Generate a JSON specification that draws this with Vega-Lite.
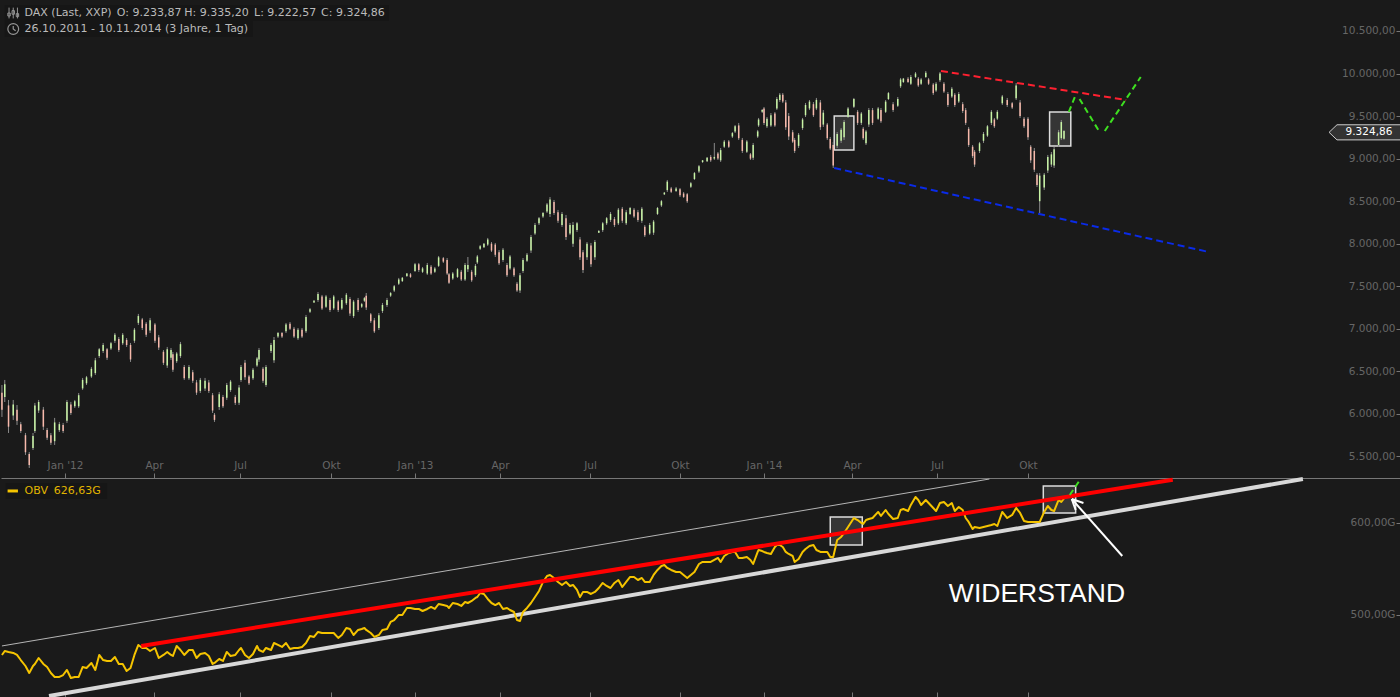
{"$schema":"https://vega.github.io/schema/vega-lite/v6.json","background":"#1a1a1a","padding":0,"spacing":0,"bounds":"flush","config":{"view":{"stroke":null},"concat":{"spacing":0},"text":{"font":"DejaVu Sans"},"axis":{"labelFont":"DejaVu Sans","labelFontSize":10.5,"labelColor":"#666666","tickColor":"#777777","grid":false,"title":null}},
"datasets":{"rows":[
{"d":"2011-10-27","o":6250,"h":6340,"l":5964,"c":6050,"v":456.5},{"d":"2011-10-30","o":6200,"h":6399,"l":6140,"c":6350,"v":460.8},{"d":"2011-11-03","o":6100,"h":6164,"l":5776,"c":5850,"v":459.8},{"d":"2011-11-08","o":5980,"h":6164,"l":5929,"c":6110,"v":458.7},{"d":"2011-11-12","o":6050,"h":6105,"l":5870,"c":5920,"v":456.5},{"d":"2011-11-16","o":5880,"h":5906,"l":5776,"c":5800,"v":451},{"d":"2011-11-21","o":5750,"h":5776,"l":5518,"c":5550,"v":444.5},{"d":"2011-11-25","o":5530,"h":5553,"l":5365,"c":5400,"v":436.9},{"d":"2011-11-29","o":5600,"h":5776,"l":5576,"c":5740,"v":444.5},{"d":"2011-12-01","o":5800,"h":6129,"l":5776,"c":6100,"v":446.7},{"d":"2011-12-05","o":6040,"h":6164,"l":6011,"c":6140,"v":453.2},{"d":"2011-12-10","o":6050,"h":6082,"l":5811,"c":5850,"v":446.7},{"d":"2011-12-14","o":5810,"h":5835,"l":5694,"c":5720,"v":443.4},{"d":"2011-12-18","o":5750,"h":5776,"l":5635,"c":5660,"v":436.9},{"d":"2011-12-22","o":5680,"h":5953,"l":5635,"c":5900,"v":432.6},{"d":"2011-12-27","o":5810,"h":5906,"l":5788,"c":5880,"v":432.6},{"d":"2011-12-31","o":5870,"h":5894,"l":5776,"c":5800,"v":434.7},
{"d":"2012-01-04","o":5920,"h":6164,"l":5894,"c":6140,"v":440.2},{"d":"2012-01-08","o":6110,"h":6141,"l":5988,"c":6010,"v":431.5},{"d":"2012-01-12","o":6090,"h":6164,"l":6070,"c":6150,"v":432.6},{"d":"2012-01-16","o":6090,"h":6246,"l":6070,"c":6220,"v":432.6},{"d":"2012-01-20","o":6300,"h":6423,"l":6282,"c":6400,"v":443.4},{"d":"2012-01-24","o":6360,"h":6446,"l":6340,"c":6430,"v":442.3},{"d":"2012-01-29","o":6440,"h":6552,"l":6423,"c":6530,"v":447.8},{"d":"2012-02-02","o":6480,"h":6658,"l":6458,"c":6630,"v":440.2},{"d":"2012-02-06","o":6680,"h":6775,"l":6658,"c":6760,"v":456.5},{"d":"2012-02-10","o":6740,"h":6834,"l":6716,"c":6810,"v":451},{"d":"2012-02-14","o":6760,"h":6775,"l":6634,"c":6660,"v":450},{"d":"2012-02-18","o":6770,"h":6846,"l":6751,"c":6830,"v":450},{"d":"2012-02-22","o":6860,"h":6951,"l":6834,"c":6930,"v":454.3},{"d":"2012-02-26","o":6880,"h":6904,"l":6728,"c":6750,"v":446.7},{"d":"2012-03-01","o":6830,"h":6951,"l":6810,"c":6930,"v":446.7},{"d":"2012-03-05","o":6870,"h":6892,"l":6787,"c":6810,"v":439.1},{"d":"2012-03-09","o":6810,"h":6834,"l":6611,"c":6640,"v":442.3},{"d":"2012-03-13","o":6860,"h":7010,"l":6834,"c":6990,"v":456.5},{"d":"2012-03-17","o":7070,"h":7175,"l":7045,"c":7150,"v":467.4},{"d":"2012-03-21","o":7110,"h":7128,"l":6986,"c":7010,"v":464.1},{"d":"2012-03-25","o":7060,"h":7080,"l":6904,"c":6930,"v":464.1},{"d":"2012-03-29","o":6980,"h":7128,"l":6951,"c":7100,"v":460.8},{"d":"2012-04-03","o":7050,"h":7069,"l":6834,"c":6860,"v":464.1},{"d":"2012-04-07","o":6900,"h":6928,"l":6751,"c":6780,"v":453.2},{"d":"2012-04-12","o":6730,"h":6751,"l":6575,"c":6600,"v":456.5},{"d":"2012-04-16","o":6570,"h":6787,"l":6540,"c":6760,"v":459.8},{"d":"2012-04-20","o":6660,"h":6775,"l":6634,"c":6750,"v":456.5},{"d":"2012-04-22","o":6700,"h":6728,"l":6493,"c":6520,"v":455.4},{"d":"2012-04-26","o":6620,"h":6728,"l":6599,"c":6710,"v":466.3},{"d":"2012-04-30","o":6680,"h":6846,"l":6658,"c":6820,"v":461.9},{"d":"2012-05-04","o":6550,"h":6575,"l":6399,"c":6420,"v":456.5},{"d":"2012-05-09","o":6420,"h":6575,"l":6399,"c":6550,"v":461.9},{"d":"2012-05-13","o":6490,"h":6517,"l":6364,"c":6390,"v":461.9},{"d":"2012-05-17","o":6370,"h":6399,"l":6223,"c":6250,"v":453.2},{"d":"2012-05-21","o":6270,"h":6423,"l":6246,"c":6400,"v":457.6},{"d":"2012-05-26","o":6300,"h":6423,"l":6270,"c":6390,"v":458.7},{"d":"2012-05-30","o":6370,"h":6399,"l":6246,"c":6270,"v":455.4},{"d":"2012-06-03","o":6220,"h":6246,"l":6011,"c":6040,"v":446.7},{"d":"2012-06-05","o":5990,"h":6011,"l":5906,"c":5930,"v":447.8},{"d":"2012-06-10","o":6080,"h":6258,"l":6047,"c":6230,"v":452.1},{"d":"2012-06-14","o":6200,"h":6223,"l":6070,"c":6090,"v":450},{"d":"2012-06-18","o":6190,"h":6364,"l":6164,"c":6340,"v":459.8},{"d":"2012-06-22","o":6280,"h":6399,"l":6258,"c":6380,"v":455.4},{"d":"2012-06-27","o":6200,"h":6223,"l":6105,"c":6130,"v":456.5},{"d":"2012-07-01","o":6130,"h":6340,"l":6105,"c":6310,"v":461.9},{"d":"2012-07-03","o":6400,"h":6575,"l":6376,"c":6550,"v":464.1},{"d":"2012-07-07","o":6600,"h":6634,"l":6399,"c":6430,"v":456.5},{"d":"2012-07-11","o":6440,"h":6458,"l":6340,"c":6360,"v":453.2},{"d":"2012-07-15","o":6420,"h":6540,"l":6399,"c":6520,"v":457.6},{"d":"2012-07-19","o":6570,"h":6669,"l":6552,"c":6650,"v":466.3},{"d":"2012-07-21","o":6640,"h":6775,"l":6611,"c":6750,"v":461.9},{"d":"2012-07-25","o":6530,"h":6552,"l":6364,"c":6390,"v":459.8},{"d":"2012-07-28","o":6340,"h":6575,"l":6317,"c":6550,"v":464.1},{"d":"2012-08-02","o":6740,"h":6834,"l":6716,"c":6810,"v":461.9},{"d":"2012-08-05","o":6630,"h":6904,"l":6599,"c":6870,"v":469.5},{"d":"2012-08-09","o":6910,"h":6963,"l":6892,"c":6950,"v":467.4},{"d":"2012-08-13","o":6950,"h":6963,"l":6892,"c":6910,"v":465.2},{"d":"2012-08-17","o":6970,"h":7069,"l":6951,"c":7050,"v":469.5},{"d":"2012-08-21","o":7060,"h":7080,"l":6986,"c":7000,"v":463},{"d":"2012-08-25","o":7000,"h":7022,"l":6892,"c":6910,"v":464.1},{"d":"2012-08-29","o":6890,"h":7010,"l":6869,"c":6990,"v":464.1},{"d":"2012-09-02","o":6990,"h":7010,"l":6892,"c":6910,"v":465.2},{"d":"2012-09-06","o":6970,"h":7163,"l":6951,"c":7140,"v":469.5},{"d":"2012-09-10","o":7200,"h":7245,"l":7186,"c":7230,"v":477.2},{"d":"2012-09-14","o":7310,"h":7339,"l":7304,"c":7330,"v":476.1},{"d":"2012-09-18","o":7340,"h":7433,"l":7316,"c":7410,"v":481.5},{"d":"2012-09-22","o":7380,"h":7398,"l":7221,"c":7240,"v":480.4},{"d":"2012-09-26","o":7260,"h":7398,"l":7245,"c":7380,"v":480.4},{"d":"2012-09-30","o":7340,"h":7363,"l":7198,"c":7220,"v":480.4},{"d":"2012-10-04","o":7240,"h":7398,"l":7221,"c":7380,"v":480.4},{"d":"2012-10-09","o":7320,"h":7339,"l":7198,"c":7220,"v":475},{"d":"2012-10-13","o":7240,"h":7363,"l":7221,"c":7340,"v":478.2},{"d":"2012-10-18","o":7300,"h":7421,"l":7280,"c":7400,"v":485.8},{"d":"2012-10-22","o":7350,"h":7374,"l":7151,"c":7180,"v":484.8},{"d":"2012-10-26","o":7150,"h":7339,"l":7128,"c":7320,"v":478.2},{"d":"2012-10-31","o":7340,"h":7363,"l":7198,"c":7220,"v":483.7},{"d":"2012-11-04","o":7260,"h":7304,"l":7245,"c":7290,"v":484.8},{"d":"2012-11-07","o":7330,"h":7374,"l":7316,"c":7360,"v":485.8},{"d":"2012-11-09","o":7390,"h":7421,"l":7221,"c":7250,"v":483.7},{"d":"2012-11-14","o":7170,"h":7186,"l":7069,"c":7090,"v":480.4},{"d":"2012-11-18","o":7100,"h":7128,"l":6951,"c":6970,"v":476.1},{"d":"2012-11-23","o":7010,"h":7186,"l":6986,"c":7160,"v":478.2},{"d":"2012-11-27","o":7210,"h":7304,"l":7186,"c":7280,"v":483.7},{"d":"2012-12-02","o":7280,"h":7363,"l":7257,"c":7340,"v":484.8},{"d":"2012-12-06","o":7390,"h":7433,"l":7374,"c":7420,"v":492.4},{"d":"2012-12-10","o":7450,"h":7515,"l":7433,"c":7500,"v":494.5},{"d":"2012-12-15","o":7530,"h":7598,"l":7515,"c":7580,"v":500},{"d":"2012-12-19","o":7560,"h":7609,"l":7551,"c":7600,"v":500},{"d":"2012-12-24","o":7620,"h":7656,"l":7609,"c":7650,"v":507.6},{"d":"2012-12-28","o":7640,"h":7656,"l":7598,"c":7610,"v":507.6},
{"d":"2013-01-02","o":7680,"h":7774,"l":7668,"c":7760,"v":506.5},{"d":"2013-01-06","o":7760,"h":7774,"l":7668,"c":7690,"v":506.5},{"d":"2013-01-10","o":7670,"h":7727,"l":7656,"c":7710,"v":504.3},{"d":"2013-01-15","o":7650,"h":7774,"l":7633,"c":7750,"v":506.5},{"d":"2013-01-19","o":7730,"h":7750,"l":7633,"c":7650,"v":508.7},{"d":"2013-01-23","o":7670,"h":7727,"l":7656,"c":7710,"v":506.5},{"d":"2013-01-27","o":7740,"h":7856,"l":7727,"c":7840,"v":511.9},{"d":"2013-02-01","o":7830,"h":7844,"l":7774,"c":7790,"v":510.8},{"d":"2013-02-05","o":7810,"h":7832,"l":7633,"c":7650,"v":509.8},{"d":"2013-02-07","o":7640,"h":7656,"l":7527,"c":7540,"v":507.6},{"d":"2013-02-11","o":7590,"h":7668,"l":7574,"c":7650,"v":513},{"d":"2013-02-16","o":7610,"h":7715,"l":7598,"c":7700,"v":511.9},{"d":"2013-02-20","o":7670,"h":7692,"l":7562,"c":7580,"v":509.8},{"d":"2013-02-24","o":7580,"h":7774,"l":7562,"c":7750,"v":514.1},{"d":"2013-02-27","o":7700,"h":7844,"l":7668,"c":7750,"v":513},{"d":"2013-03-03","o":7670,"h":7692,"l":7551,"c":7570,"v":515.2},{"d":"2013-03-07","o":7630,"h":7762,"l":7609,"c":7740,"v":518.5},{"d":"2013-03-09","o":7780,"h":7868,"l":7762,"c":7850,"v":519.5},{"d":"2013-03-12","o":7940,"h":7985,"l":7926,"c":7970,"v":523.9},{"d":"2013-03-16","o":7960,"h":8009,"l":7950,"c":8000,"v":522.8},{"d":"2013-03-20","o":7990,"h":8068,"l":7974,"c":8050,"v":517.4},{"d":"2013-03-24","o":8000,"h":8020,"l":7903,"c":7920,"v":513},{"d":"2013-03-28","o":7990,"h":8009,"l":7844,"c":7870,"v":510.8},{"d":"2013-04-01","o":7900,"h":7926,"l":7750,"c":7770,"v":513},{"d":"2013-04-05","o":7810,"h":7950,"l":7786,"c":7930,"v":506.5},{"d":"2013-04-09","o":7750,"h":7774,"l":7609,"c":7630,"v":507.6},{"d":"2013-04-12","o":7710,"h":7868,"l":7692,"c":7850,"v":505.4},{"d":"2013-04-16","o":7710,"h":7727,"l":7609,"c":7630,"v":503.2},{"d":"2013-04-19","o":7530,"h":7551,"l":7433,"c":7450,"v":494.5},{"d":"2013-04-22","o":7450,"h":7656,"l":7421,"c":7630,"v":493.5},{"d":"2013-04-25","o":7680,"h":7832,"l":7656,"c":7810,"v":503.2},{"d":"2013-04-29","o":7800,"h":7891,"l":7786,"c":7870,"v":507.6},{"d":"2013-05-03","o":7920,"h":8103,"l":7891,"c":8080,"v":513},{"d":"2013-05-07","o":8120,"h":8244,"l":8103,"c":8220,"v":519.5},{"d":"2013-05-11","o":8240,"h":8314,"l":8220,"c":8300,"v":526.1},{"d":"2013-05-15","o":8320,"h":8373,"l":8303,"c":8360,"v":535.9},{"d":"2013-05-19","o":8380,"h":8479,"l":8361,"c":8460,"v":542.4},{"d":"2013-05-22","o":8350,"h":8549,"l":8314,"c":8520,"v":543.5},{"d":"2013-05-26","o":8490,"h":8514,"l":8338,"c":8360,"v":540.2},{"d":"2013-05-30","o":8370,"h":8397,"l":8244,"c":8270,"v":535.9},{"d":"2013-06-03","o":8220,"h":8373,"l":8197,"c":8350,"v":532.6},{"d":"2013-06-07","o":8300,"h":8338,"l":8044,"c":8080,"v":535.9},{"d":"2013-06-11","o":8120,"h":8244,"l":8103,"c":8220,"v":531.5},{"d":"2013-06-14","o":8000,"h":8256,"l":7962,"c":8220,"v":532.6},{"d":"2013-06-18","o":8160,"h":8256,"l":8138,"c":8240,"v":527.2},{"d":"2013-06-21","o":8050,"h":8079,"l":7809,"c":7840,"v":519.5},{"d":"2013-06-24","o":7900,"h":7926,"l":7656,"c":7690,"v":525},{"d":"2013-06-28","o":7840,"h":8020,"l":7809,"c":8000,"v":525},{"d":"2013-07-02","o":7980,"h":8009,"l":7727,"c":7760,"v":522.8},{"d":"2013-07-06","o":7840,"h":8044,"l":7809,"c":8020,"v":525},{"d":"2013-07-10","o":8130,"h":8161,"l":8126,"c":8150,"v":529.3},{"d":"2013-07-14","o":8160,"h":8256,"l":8138,"c":8240,"v":534.8},{"d":"2013-07-18","o":8240,"h":8314,"l":8220,"c":8300,"v":531.5},{"d":"2013-07-22","o":8280,"h":8373,"l":8256,"c":8350,"v":529.3},{"d":"2013-07-26","o":8290,"h":8314,"l":8197,"c":8220,"v":534.8},{"d":"2013-07-30","o":8240,"h":8420,"l":8220,"c":8400,"v":538},{"d":"2013-08-03","o":8410,"h":8432,"l":8244,"c":8270,"v":530.4},{"d":"2013-08-07","o":8240,"h":8397,"l":8220,"c":8370,"v":535.9},{"d":"2013-08-11","o":8350,"h":8432,"l":8338,"c":8420,"v":541.3},{"d":"2013-08-15","o":8400,"h":8420,"l":8303,"c":8320,"v":541.3},{"d":"2013-08-19","o":8370,"h":8397,"l":8256,"c":8280,"v":538},{"d":"2013-08-23","o":8270,"h":8432,"l":8244,"c":8410,"v":540.2},{"d":"2013-08-26","o":8200,"h":8220,"l":8079,"c":8100,"v":535.9},{"d":"2013-08-31","o":8120,"h":8244,"l":8103,"c":8220,"v":535.9},{"d":"2013-09-04","o":8130,"h":8279,"l":8103,"c":8260,"v":543.5},{"d":"2013-09-08","o":8350,"h":8432,"l":8338,"c":8420,"v":548.9},{"d":"2013-09-12","o":8450,"h":8514,"l":8432,"c":8500,"v":553.2},{"d":"2013-09-15","o":8580,"h":8608,"l":8573,"c":8600,"v":554.3},{"d":"2013-09-18","o":8630,"h":8749,"l":8608,"c":8730,"v":551.1},{"d":"2013-09-22","o":8650,"h":8667,"l":8596,"c":8610,"v":548.9},{"d":"2013-09-27","o":8620,"h":8667,"l":8608,"c":8650,"v":546.7},{"d":"2013-10-01","o":8640,"h":8655,"l":8549,"c":8570,"v":546.7},{"d":"2013-10-05","o":8590,"h":8608,"l":8538,"c":8550,"v":543.5},{"d":"2013-10-09","o":8580,"h":8596,"l":8479,"c":8500,"v":540.2},{"d":"2013-10-13","o":8670,"h":8726,"l":8655,"c":8710,"v":543.5},{"d":"2013-10-17","o":8760,"h":8843,"l":8749,"c":8830,"v":546.7},{"d":"2013-10-22","o":8850,"h":8925,"l":8831,"c":8910,"v":555.4},{"d":"2013-10-26","o":8960,"h":8984,"l":8949,"c":8980,"v":557.6},{"d":"2013-10-31","o":8970,"h":9019,"l":8961,"c":9010,"v":557.6},{"d":"2013-11-04","o":9020,"h":9043,"l":8961,"c":8980,"v":557.6},{"d":"2013-11-08","o":9000,"h":9184,"l":8984,"c":9020,"v":559.8},{"d":"2013-11-12","o":9060,"h":9078,"l":8984,"c":9000,"v":562},{"d":"2013-11-15","o":8980,"h":9125,"l":8961,"c":9100,"v":557.6},{"d":"2013-11-19","o":9140,"h":9219,"l":9125,"c":9200,"v":564.1},{"d":"2013-11-24","o":9200,"h":9219,"l":9125,"c":9140,"v":567.4},{"d":"2013-11-28","o":9260,"h":9313,"l":9243,"c":9300,"v":568.5},{"d":"2013-12-01","o":9320,"h":9395,"l":9301,"c":9380,"v":568.5},{"d":"2013-12-05","o":9390,"h":9419,"l":9219,"c":9240,"v":562},{"d":"2013-12-09","o":9220,"h":9243,"l":9066,"c":9090,"v":562},{"d":"2013-12-14","o":9080,"h":9219,"l":9066,"c":9200,"v":563},{"d":"2013-12-18","o":9050,"h":9066,"l":8984,"c":9000,"v":559.8},{"d":"2013-12-21","o":9010,"h":9184,"l":8984,"c":9160,"v":555.4},{"d":"2013-12-26","o":9260,"h":9337,"l":9243,"c":9320,"v":568.5},{"d":"2013-12-27","o":9390,"h":9478,"l":9372,"c":9460,"v":570.6},{"d":"2013-12-31","o":9550,"h":9583,"l":9536,"c":9570,"v":569.5},
{"d":"2014-01-02","o":9590,"h":9607,"l":9395,"c":9420,"v":568.5},{"d":"2014-01-05","o":9380,"h":9489,"l":9360,"c":9470,"v":567.4},{"d":"2014-01-09","o":9390,"h":9536,"l":9372,"c":9510,"v":566.3},{"d":"2014-01-13","o":9530,"h":9548,"l":9372,"c":9390,"v":573.9},{"d":"2014-01-15","o":9590,"h":9724,"l":9572,"c":9700,"v":576.1},{"d":"2014-01-18","o":9690,"h":9771,"l":9666,"c":9750,"v":576.1},{"d":"2014-01-21","o":9750,"h":9771,"l":9654,"c":9670,"v":573.9},{"d":"2014-01-24","o":9660,"h":9689,"l":9337,"c":9370,"v":568.5},{"d":"2014-01-27","o":9500,"h":9536,"l":9219,"c":9260,"v":566.3},{"d":"2014-01-31","o":9310,"h":9337,"l":9184,"c":9200,"v":564.1},{"d":"2014-02-02","o":9220,"h":9243,"l":9066,"c":9090,"v":557.6},{"d":"2014-02-06","o":9150,"h":9301,"l":9125,"c":9280,"v":560.9},{"d":"2014-02-10","o":9360,"h":9478,"l":9337,"c":9460,"v":568.5},{"d":"2014-02-13","o":9510,"h":9654,"l":9489,"c":9630,"v":571.7},{"d":"2014-02-17","o":9590,"h":9689,"l":9571,"c":9670,"v":575},{"d":"2014-02-21","o":9640,"h":9665,"l":9489,"c":9510,"v":576.1},{"d":"2014-02-24","o":9590,"h":9713,"l":9571,"c":9690,"v":570.6},{"d":"2014-02-28","o":9660,"h":9689,"l":9337,"c":9370,"v":568.5},{"d":"2014-03-03","o":9400,"h":9571,"l":9372,"c":9540,"v":568.5},{"d":"2014-03-07","o":9400,"h":9419,"l":9219,"c":9240,"v":568.5},{"d":"2014-03-10","o":9230,"h":9254,"l":9101,"c":9120,"v":563},{"d":"2014-03-13","o":9160,"h":9196,"l":8890,"c":8920,"v":563},{"d":"2014-03-17","o":9150,"h":9313,"l":9125,"c":9290,"v":581.5},{"d":"2014-03-21","o":9210,"h":9360,"l":9184,"c":9340,"v":584.8},{"d":"2014-03-24","o":9250,"h":9454,"l":9219,"c":9430,"v":589.1},{"d":"2014-03-28","o":9490,"h":9607,"l":9478,"c":9590,"v":595.6},{"d":"2014-04-03","o":9610,"h":9713,"l":9595,"c":9700,"v":605.4},{"d":"2014-04-07","o":9550,"h":9571,"l":9395,"c":9420,"v":603.2},{"d":"2014-04-11","o":9420,"h":9548,"l":9395,"c":9530,"v":600},{"d":"2014-04-13","o":9350,"h":9372,"l":9219,"c":9240,"v":598.9},{"d":"2014-04-16","o":9180,"h":9337,"l":9160,"c":9320,"v":603.2},{"d":"2014-04-19","o":9400,"h":9595,"l":9372,"c":9570,"v":604.3},{"d":"2014-04-23","o":9570,"h":9595,"l":9395,"c":9420,"v":605.4},{"d":"2014-04-29","o":9470,"h":9607,"l":9454,"c":9590,"v":612},{"d":"2014-05-02","o":9570,"h":9595,"l":9419,"c":9440,"v":607.6},{"d":"2014-05-07","o":9550,"h":9689,"l":9536,"c":9670,"v":614.1},{"d":"2014-05-10","o":9700,"h":9783,"l":9689,"c":9770,"v":609.8},{"d":"2014-05-15","o":9640,"h":9665,"l":9548,"c":9570,"v":604.3},{"d":"2014-05-20","o":9620,"h":9724,"l":9607,"c":9700,"v":605.4},{"d":"2014-05-23","o":9850,"h":9948,"l":9830,"c":9930,"v":614.1},{"d":"2014-05-26","o":9900,"h":9948,"l":9889,"c":9940,"v":615.2},{"d":"2014-05-31","o":9940,"h":9959,"l":9889,"c":9900,"v":613},{"d":"2014-06-03","o":9880,"h":9983,"l":9865,"c":9960,"v":619.6},{"d":"2014-06-08","o":9960,"h":10018,"l":9948,"c":10000,"v":628.3},{"d":"2014-06-11","o":9940,"h":9959,"l":9842,"c":9860,"v":625},{"d":"2014-06-14","o":9880,"h":9948,"l":9865,"c":9930,"v":619.6},{"d":"2014-06-19","o":9960,"h":10030,"l":9948,"c":10010,"v":625},{"d":"2014-06-22","o":9930,"h":9948,"l":9865,"c":9880,"v":621.7},{"d":"2014-06-27","o":9870,"h":9889,"l":9748,"c":9770,"v":616.3},{"d":"2014-06-30","o":9800,"h":9900,"l":9783,"c":9880,"v":613},{"d":"2014-07-04","o":9920,"h":10018,"l":9900,"c":10000,"v":621.7},{"d":"2014-07-08","o":9880,"h":9900,"l":9771,"c":9790,"v":622.8},{"d":"2014-07-12","o":9760,"h":9783,"l":9607,"c":9630,"v":618.5},{"d":"2014-07-16","o":9730,"h":9842,"l":9713,"c":9820,"v":621.7},{"d":"2014-07-19","o":9750,"h":9771,"l":9607,"c":9630,"v":613},{"d":"2014-07-23","o":9670,"h":9783,"l":9654,"c":9760,"v":617.4},{"d":"2014-07-27","o":9640,"h":9665,"l":9536,"c":9560,"v":614.1},{"d":"2014-07-30","o":9570,"h":9595,"l":9395,"c":9420,"v":605.4},{"d":"2014-08-02","o":9350,"h":9372,"l":9137,"c":9160,"v":601.1},{"d":"2014-08-06","o":9140,"h":9160,"l":9008,"c":9030,"v":593.5},{"d":"2014-08-08","o":9080,"h":9101,"l":8902,"c":8930,"v":595.6},{"d":"2014-08-13","o":9090,"h":9196,"l":9066,"c":9180,"v":594.5},{"d":"2014-08-17","o":9210,"h":9313,"l":9184,"c":9290,"v":595.6},{"d":"2014-08-21","o":9270,"h":9395,"l":9254,"c":9380,"v":596.7},{"d":"2014-08-25","o":9420,"h":9571,"l":9395,"c":9550,"v":597.8},{"d":"2014-08-28","o":9460,"h":9478,"l":9360,"c":9380,"v":598.9},{"d":"2014-08-31","o":9470,"h":9571,"l":9454,"c":9550,"v":596.7},{"d":"2014-09-05","o":9650,"h":9748,"l":9630,"c":9730,"v":612},{"d":"2014-09-10","o":9690,"h":9713,"l":9607,"c":9630,"v":605.4},{"d":"2014-09-15","o":9650,"h":9665,"l":9583,"c":9600,"v":608.7},{"d":"2014-09-19","o":9710,"h":9889,"l":9689,"c":9860,"v":616.3},{"d":"2014-09-23","o":9660,"h":9689,"l":9478,"c":9500,"v":610.9},{"d":"2014-09-27","o":9470,"h":9489,"l":9360,"c":9380,"v":602.2},{"d":"2014-10-01","o":9470,"h":9489,"l":9219,"c":9250,"v":601.1},{"d":"2014-10-04","o":9140,"h":9160,"l":8949,"c":8980,"v":601.1},{"d":"2014-10-08","o":9090,"h":9125,"l":8843,"c":8870,"v":601.1},{"d":"2014-10-11","o":8810,"h":8831,"l":8667,"c":8690,"v":601.1},{"d":"2014-10-14","o":8500,"h":8831,"l":8361,"c":8800,"v":601.1},{"d":"2014-10-19","o":8660,"h":8831,"l":8632,"c":8810,"v":612},{"d":"2014-10-23","o":8860,"h":9043,"l":8831,"c":9020,"v":618.5},{"d":"2014-10-27","o":8930,"h":9078,"l":8902,"c":9050,"v":614.1},{"d":"2014-10-30","o":8920,"h":9137,"l":8890,"c":9110,"v":613},{"d":"2014-11-04","o":9160,"h":9337,"l":9137,"c":9310,"v":625},{"d":"2014-11-07","o":9240,"h":9454,"l":9219,"c":9430,"v":622.8},{"d":"2014-11-10","o":9233.87,"h":9335.2,"l":9222.57,"c":9324.86,"v":626.63}
]},
"vconcat":[
{"width":1400,"height":478,"encoding":{
"x":{"field":"d","type":"temporal","scale":{"type":"utc","domain":{"expr":"[utc(2011,9,26),utc(2012,0,2),utc(2012,3,2),utc(2012,6,2),utc(2012,9,1),utc(2013,0,2),utc(2013,3,2),utc(2013,6,1),utc(2013,9,1),utc(2014,0,2),utc(2014,3,1),utc(2014,6,1),utc(2014,9,1),utc(2014,10,10),utc(2015,9,23)]"},"range":[0,64,153,239,330,414,499,589,679,763,851,936,1027,1063,1400]},
"axis":{"title":null,"values":["2012-01-02","2012-04-02","2012-07-02","2012-10-01","2013-01-02","2013-04-02","2013-07-01","2013-10-01","2014-01-02","2014-04-01","2014-07-01","2014-10-01"],"labelExpr":"utcmonth(datum.value)==0?'Jan \\''+utcFormat(datum.value,'%y'):utcmonth(datum.value)==3?'Apr':utcmonth(datum.value)==6?'Jul':'Okt'","tickSize":-5,"labelPadding":-7.5,"labelBaseline":"middle","domainColor":"#777777","labelFlush":false,"labelOverlap":false}},
"y":{"field":"p","type":"quantitative","scale":{"domain":[5247,10864],"nice":false,"zero":false},
"axis":{"title":null,"orient":"right","values":[5500,6000,6500,7000,7500,8000,8500,9000,9500,10000,10500],"labelExpr":"format(datum.value/1000,'.3f')+',00'","tickSize":-5,"labelPadding":-1,"labelAlign":"right","domain":false,"labelOverlap":false,"labelFlush":false}}},
"layer":[
{"data":{"values":[{"d":"2011-10-30","d2":"2012-12-04","p":10805,"p2":10617},{"d":"2011-10-30","d2":"2012-07-15","p":10617,"p2":10429}],"format":{"parse":{"d":"date","d2":"date"}}},"mark":{"type":"rect","fill":"#161616"},"encoding":{"x2":{"field":"d2"},"y2":{"field":"p2"}}},
{"data":{"values":[{"d":"2014-03-14","d2":"2014-04-03","p":9501,"p2":9101},{"d":"2014-10-25","d2":"2014-11-17","p":9548,"p2":9148}],"format":{"parse":{"d":"date","d2":"date"}}},"mark":{"type":"rect","fill":"#ffffff","fillOpacity":0.12,"stroke":"#dddddd","strokeWidth":1.5},"encoding":{"x2":{"field":"d2"},"y2":{"field":"p2"}}},
{"data":{"name":"rows"},"mark":{"type":"rule","color":"#8a8a8a","strokeWidth":1},"encoding":{"y":{"field":"h","type":"quantitative","axis":{"title":null}},"y2":{"field":"l"}}},
{"data":{"name":"rows"},"mark":{"type":"rule","strokeWidth":1.5},"encoding":{"y":{"field":"o","type":"quantitative","axis":{"title":null}},"y2":{"field":"c"},"color":{"condition":{"test":"datum.c>=datum.o","value":"#c9f5a6"},"value":"#f7b9ab"}}},
{"data":{"values":[{"d":"2014-07-05","d2":"2015-01-13","p":10030,"p2":9689}],"format":{"parse":{"d":"date","d2":"date"}}},"mark":{"type":"rule","color":"#ff2030","strokeWidth":2,"strokeDash":[7,4]},"encoding":{"x2":{"field":"d2"},"y2":{"field":"p2"}}},
{"data":{"values":[{"d":"2014-03-14","d2":"2015-04-08","p":8890,"p2":7903}],"format":{"parse":{"d":"date","d2":"date"}}},"mark":{"type":"rule","color":"#0a2be8","strokeWidth":2,"strokeDash":[7,4]},"encoding":{"x2":{"field":"d2"},"y2":{"field":"p2"}}},
{"data":{"values":[{"d":"2014-11-15","d2":"2014-11-22","p":9548,"p2":9748},{"d":"2014-11-26","d2":"2014-12-16","p":9701,"p2":9325},{"d":"2014-12-22","d2":"2015-01-28","p":9325,"p2":9959}],"format":{"parse":{"d":"date","d2":"date"}}},"mark":{"type":"rule","color":"#3ee020","strokeWidth":2,"strokeDash":[6,4]},"encoding":{"x2":{"field":"d2"},"y2":{"field":"p2"}}},
{"data":{"values":[{"d":"2011-11-20","p":10711,"t":"DAX (Last, XXP)"},{"d":"2012-02-24","p":10711,"t":"O: 9.233,87"},{"d":"2012-05-04","p":10711,"t":"H: 9.335,20"},{"d":"2012-07-16","p":10711,"t":"L: 9.222,57"},{"d":"2012-09-21","p":10711,"t":"C: 9.324,86"},{"d":"2011-11-20","p":10523,"t":"26.10.2011 - 10.11.2014 (3 Jahre, 1 Tag)"}],"format":{"parse":{"d":"date"}}},"mark":{"type":"text","align":"left","baseline":"middle","fontSize":11,"color":"#bbbbbb"},"encoding":{"text":{"field":"t"}}},
{"data":{"values":[{"d":"2011-11-08","p":10711}],"format":{"parse":{"d":"date"}}},"mark":{"type":"point","filled":false,"stroke":"#cccccc","strokeWidth":1,"size":144,"shape":"M-0.7,-0.9V0.9M0,-0.9V0.9M0.7,-0.9V0.9M-0.9,0H-0.5V0.5H-0.9ZM-0.2,-0.4H0.2V0.2H-0.2ZM0.5,0.1H0.9V0.6H0.5Z"}},
{"data":{"values":[{"d":"2011-11-08","p":10523}],"format":{"parse":{"d":"date"}}},"mark":{"type":"point","filled":false,"stroke":"#cccccc","strokeWidth":1.2,"size":144,"shape":"M-0.9,0A0.9,0.9 0 1 1 0.9,0A0.9,0.9 0 1 1 -0.9,0M0,-0.5V0L0.4,0.3"}},
{"data":{"values":[{"d":"2015-09-16","p":9309}],"format":{"parse":{"d":"date"}}},"mark":{"type":"point","filled":true,"fill":"#333333","fillOpacity":1,"stroke":"#cccccc","strokeWidth":1,"size":5184,"shape":"M-1,0L-0.78,-0.21H1V0.21H-0.78Z"}},
{"data":{"values":[{"d":"2015-09-20","p":9309,"t":"9.324,86"}],"format":{"parse":{"d":"date"}}},"mark":{"type":"text","align":"center","baseline":"middle","fontSize":10.5,"color":"#ffffff"},"encoding":{"text":{"field":"t"}}}
]},
{"width":1400,"height":219,"encoding":{
"x":{"field":"d","type":"temporal","scale":{"type":"utc","domain":{"expr":"[utc(2011,9,26),utc(2012,0,2),utc(2012,3,2),utc(2012,6,2),utc(2012,9,1),utc(2013,0,2),utc(2013,3,2),utc(2013,6,1),utc(2013,9,1),utc(2014,0,2),utc(2014,3,1),utc(2014,6,1),utc(2014,9,1),utc(2014,10,10),utc(2015,9,23)]"},"range":[0,64,153,239,330,414,499,589,679,763,851,936,1027,1063,1400]},
"axis":{"title":null,"values":["2012-01-02","2012-04-02","2012-07-02","2012-10-01","2013-01-02","2013-04-02","2013-07-01","2013-10-01","2014-01-02","2014-04-01","2014-07-01","2014-10-01"],"labels":false,"tickSize":-5,"domain":false}},
"y":{"field":"p","type":"quantitative","scale":{"domain":[410.8,648.9],"nice":false,"zero":false},
"axis":{"title":null,"orient":"right","values":[500,600],"labelExpr":"datum.value+',00G'","tickSize":-5,"labelPadding":-1,"labelAlign":"right","domain":false,"labelOverlap":false,"labelFlush":false}}},
"layer":[
{"data":{"values":[{"d":"2011-10-31","d2":"2012-02-14","p":643.5,"p2":626.1}],"format":{"parse":{"d":"date","d2":"date"}}},"mark":{"type":"rect","fill":"#161616"},"encoding":{"x2":{"field":"d2"},"y2":{"field":"p2"}}},
{"data":{"values":[{"d":"2014-03-10","d2":"2014-04-12","p":606.5,"p2":576.1},{"d":"2014-10-18","d2":"2014-11-22","p":640.2,"p2":610.9}],"format":{"parse":{"d":"date","d2":"date"}}},"mark":{"type":"rect","fill":"#ffffff","fillOpacity":0.12,"stroke":"#dddddd","strokeWidth":1.5},"encoding":{"x2":{"field":"d2"},"y2":{"field":"p2"}}},
{"data":{"values":[{"d":"2011-10-27","d2":"2014-08-23","p":466.3,"p2":647.8}],"format":{"parse":{"d":"date","d2":"date"}}},"mark":{"type":"rule","color":"#b5b5b5","strokeWidth":1},"encoding":{"x2":{"field":"d2"},"y2":{"field":"p2"}}},
{"data":{"values":[{"d":"2011-12-16","d2":"2015-07-14","p":411.9,"p2":647.8}],"format":{"parse":{"d":"date","d2":"date"}}},"mark":{"type":"rule","color":"#d8d8d8","strokeWidth":4},"encoding":{"x2":{"field":"d2"},"y2":{"field":"p2"}}},
{"data":{"name":"rows"},"mark":{"type":"line","color":"#f5c400","strokeWidth":2,"strokeJoin":"round"},"encoding":{"y":{"field":"v","type":"quantitative","axis":{"title":null}}}},
{"data":{"values":[{"d":"2012-03-20","d2":"2015-03-02","p":466.3,"p2":647}],"format":{"parse":{"d":"date","d2":"date"}}},"mark":{"type":"rule","color":"#ff0000","strokeWidth":4},"encoding":{"x2":{"field":"d2"},"y2":{"field":"p2"}}},
{"data":{"values":[{"d":"2014-11-16","d2":"2014-11-27","p":630.4,"p2":647.8}],"format":{"parse":{"d":"date","d2":"date"}}},"mark":{"type":"rule","color":"#3ee020","strokeWidth":2,"strokeDash":[6,4]},"encoding":{"x2":{"field":"d2"},"y2":{"field":"p2"}}},
{"data":{"values":[{"d":"2014-11-18","d2":"2015-01-09","p":626.1,"p2":564.1},{"d":"2014-11-18","d2":"2014-11-30","p":626.1,"p2":621.7},{"d":"2014-11-18","d2":"2014-11-22","p":626.1,"p2":614.1}],"format":{"parse":{"d":"date","d2":"date"}}},"mark":{"type":"rule","color":"#ffffff","strokeWidth":2},"encoding":{"x2":{"field":"d2"},"y2":{"field":"p2"}}},
{"data":{"values":[{"d":"2011-11-02","d2":"2011-11-13","p":634.8,"p2":634.8}],"format":{"parse":{"d":"date","d2":"date"}}},"mark":{"type":"rule","color":"#f5c400","strokeWidth":3},"encoding":{"x2":{"field":"d2"},"y2":{"field":"p2"}}},
{"data":{"values":[{"d":"2011-11-20","p":634.8,"t":"OBV"},{"d":"2011-12-21","p":634.8,"t":"626,63G"}],"format":{"parse":{"d":"date"}}},"mark":{"type":"text","align":"left","baseline":"middle","fontSize":11,"color":"#e0b400"},"encoding":{"text":{"field":"t"}}},
{"data":{"values":[{"d":"2014-07-13","p":514.1,"t":"WIDERSTAND"}],"format":{"parse":{"d":"date"}}},"mark":{"type":"text","align":"left","baseline":"alphabetic","font":"Liberation Sans","fontSize":26.5,"color":"#ffffff"},"encoding":{"text":{"field":"t"}}}
]}
]}
